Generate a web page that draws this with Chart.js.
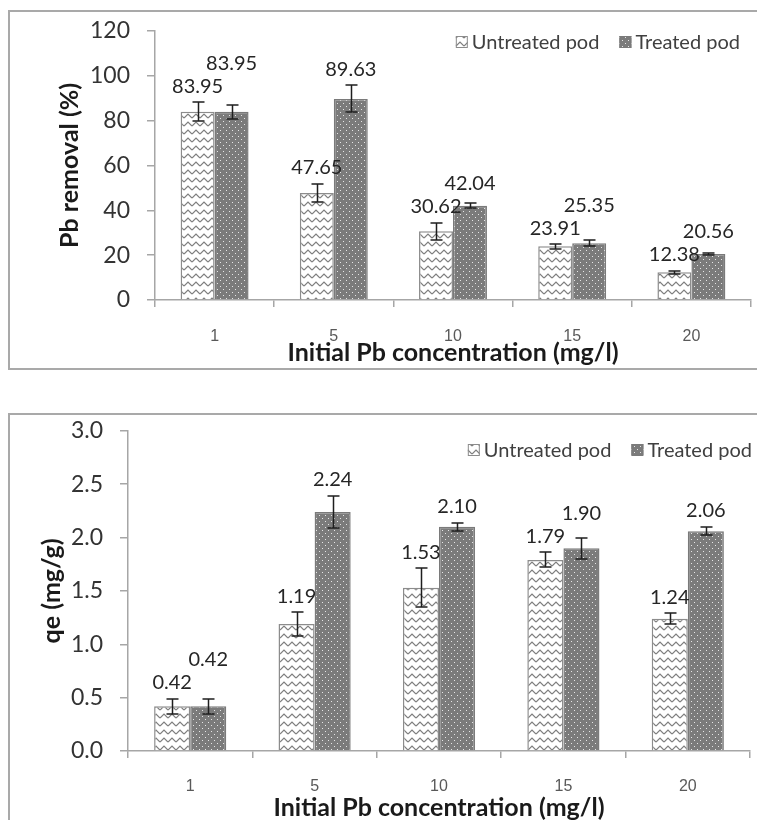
<!DOCTYPE html>
<html>
<head>
<meta charset="utf-8">
<script src="https://cdn.jsdelivr.net/npm/chart.js@4.4.1/dist/chart.umd.min.js"></script>
<style>
  html, body { margin: 0; padding: 0; background: #fff; overflow: hidden; }
  body { width: 757px; height: 820px; position: relative; }
  .frame { position: absolute; border: 2px solid #a9a9a9; box-sizing: border-box; }
  #frameTop { left: 8px; top: 10px; width: 800px; height: 360px; }
  #frameBottom { left: 8px; top: 413px; width: 800px; height: 500px; }
  canvas { position: absolute; left: 0; }
  #removalChart { top: 0; }
  #qeChart { top: 400px; }
</style>
</head>
<body>
<div class="frame" id="frameTop"></div>
<div class="frame" id="frameBottom"></div>
<canvas id="removalChart" width="757" height="390"></canvas>
<canvas id="qeChart" width="757" height="420"></canvas>
<script>
// data
const concentrations = ["1", "5", "10", "15", "20"];

const removalUntreated = [83.95, 47.65, 30.62, 23.91, 12.38];
const removalTreated = [83.95, 89.63, 42.04, 25.35, 20.56];
const removalErrUntreated = [4.2, 4.1, 3.8, 1.0, 0.6];
const removalErrTreated = [3.1, 6.0, 1.0, 1.5, 0.6];

const qeUntreated = [0.42, 1.19, 1.53, 1.79, 1.24];
const qeTreated = [0.42, 2.24, 2.10, 1.90, 2.06];
const qeErrUntreated = [0.07, 0.11, 0.18, 0.07, 0.05];
const qeErrTreated = [0.07, 0.15, 0.04, 0.10, 0.04];

const seriesNames = ["Untreated pod", "Treated pod"];

const AXIS_GRAY = "#a6a6a6";
const FONT = "Lato, 'Noto Sans', sans-serif";

function wavePattern() {
    const c = document.createElement("canvas");
    c.width = 8;
    c.height = 8;
    const g = c.getContext("2d");
    g.fillStyle = "#ffffff";
    g.fillRect(0, 0, 8, 8);
    g.strokeStyle = "#7d7d7d";
    g.lineWidth = 1.2;
    g.beginPath();
    g.moveTo(0, 6);
    g.lineTo(4, 2);
    g.lineTo(8, 6);
    g.stroke();
    return g.createPattern(c, "repeat");
}

function dotPattern() {
    const c = document.createElement("canvas");
    c.width = 6;
    c.height = 6;
    const g = c.getContext("2d");
    g.fillStyle = "#7b7b7b";
    g.fillRect(0, 0, 6, 6);
    g.fillStyle = "#e6e6e6";
    g.fillRect(1, 1, 1, 1);
    g.fillRect(4, 4, 1, 1);
    return g.createPattern(c, "repeat");
}

// error bars from each dataset's "errors" array
const errorBars = {
    id: "errorBars",
    afterDatasetsDraw(chart) {
        const { ctx } = chart;
        const y = chart.scales.y;
        ctx.save();
        ctx.strokeStyle = "#1e1e1e";
        ctx.lineWidth = 1.5;
        chart.data.datasets.forEach((ds, di) => {
            chart.getDatasetMeta(di).data.forEach((bar, i) => {
                const v = ds.data[i];
                const e = ds.errors[i];
                const top = Math.round(y.getPixelForValue(v + e));
                const bot = Math.round(y.getPixelForValue(v - e));
                const x = Math.round(bar.x) + 0.5;
                ctx.beginPath();
                ctx.moveTo(x, top);
                ctx.lineTo(x, bot);
                ctx.moveTo(x - 6, top);
                ctx.lineTo(x + 6, top);
                ctx.moveTo(x - 6, bot);
                ctx.lineTo(x + 6, bot);
                ctx.stroke();
            });
        });
        ctx.restore();
    },
};

// value labels above the error bars, treated label lifted if it collides
const valueLabels = {
    id: "valueLabels",
    afterDatasetsDraw(chart, args, opts) {
        const { ctx } = chart;
        const y = chart.scales.y;
        const [u, t] = chart.data.datasets;
        const mu = chart.getDatasetMeta(0).data;
        const mt = chart.getDatasetMeta(1).data;
        ctx.save();
        ctx.font = "20px " + FONT;
        ctx.fillStyle = "#262626";
        ctx.textAlign = "center";
        ctx.textBaseline = "middle";
        u.data.forEach((v, i) => {
            const yu = y.getPixelForValue(v + u.errors[i]) - 16;
            let yt = y.getPixelForValue(t.data[i] + t.errors[i]) - 16;
            if (Math.abs(yt - yu) < 21) yt = yu - 23;
            ctx.fillText(v.toFixed(opts.digits), mu[i].x, yu);
            ctx.fillText(t.data[i].toFixed(opts.digits), mt[i].x, yt);
        });
        ctx.restore();
    },
};

// legend drawn top right, right-aligned to opts.right
const boxLegend = {
    id: "boxLegend",
    afterDraw(chart, args, opts) {
        const { ctx } = chart;
        ctx.save();
        ctx.font = "20px " + FONT;
        ctx.textBaseline = "middle";
        const box = 12;
        const items = chart.data.datasets.map((ds) => ({
            ds,
            w: box + 4 + ctx.measureText(ds.label).width,
        }));
        const total = items.reduce((s, it) => s + it.w, 0) + 20;
        let x = opts.right - total;
        items.forEach((it) => {
            ctx.fillStyle = it.ds.backgroundColor;
            ctx.fillRect(x, opts.y - box / 2, box, box);
            ctx.strokeStyle = it.ds.borderColor;
            ctx.lineWidth = 1;
            ctx.strokeRect(x + 0.5, opts.y - box / 2 + 0.5, box - 1, box - 1);
            ctx.fillStyle = "#404040";
            ctx.fillText(it.ds.label, x + box + 4, opts.y + 1);
            x += it.w + 20;
        });
        ctx.restore();
    },
};

function buildChart(canvasId, cfg) {
    const canvas = document.getElementById(canvasId);
    const existing = Chart.getChart(canvas);
    if (existing) existing.destroy();

    return new Chart(canvas.getContext("2d"), {
        type: "bar",
        data: {
            labels: concentrations,
            datasets: [
                {
                    label: seriesNames[0],
                    data: cfg.untreated,
                    errors: cfg.errUntreated,
                    backgroundColor: wavePattern(),
                    borderColor: "#8c8c8c",
                    borderWidth: 1.5,
                    categoryPercentage: cfg.catPct,
                    barPercentage: 1.0,
                },
                {
                    label: seriesNames[1],
                    data: cfg.treated,
                    errors: cfg.errTreated,
                    backgroundColor: dotPattern(),
                    borderColor: "#7a7a7a",
                    borderWidth: 1.5,
                    categoryPercentage: cfg.catPct,
                    barPercentage: 1.0,
                },
            ],
        },
        options: {
            responsive: false,
            animation: false,
            layout: { padding: { top: cfg.top, right: cfg.right, left: 0, bottom: 0 } },
            plugins: {
                legend: { display: false },
                tooltip: { enabled: false },
                valueLabels: { digits: cfg.digits },
                boxLegend: { right: cfg.legendRight, y: cfg.legendY },
            },
            scales: {
                x: {
                    grid: {
                        drawOnChartArea: false,
                        offset: true,
                        tickLength: 7,
                        color: AXIS_GRAY,
                        lineWidth: 1.5,
                    },
                    border: { color: AXIS_GRAY, width: 1.5 },
                    ticks: {
                        padding: cfg.xTickPad,
                        color: "#595959",
                        font: { family: "'Liberation Sans Narrow', 'Liberation Sans', sans-serif", size: 16 },
                    },
                    title: {
                        display: true,
                        text: "Initial Pb concentration (mg/l)",
                        color: "#1a1a1a",
                        font: { family: FONT, size: 25, weight: "bold", lineHeight: 1 },
                        padding: { top: 0, bottom: cfg.xTitlePad },
                    },
                    afterFit(scale) {
                        scale.height = cfg.xHeight;
                    },
                },
                y: {
                    min: 0,
                    max: cfg.yMax,
                    grid: {
                        drawOnChartArea: false,
                        tickLength: 8,
                        color: AXIS_GRAY,
                        lineWidth: 1.5,
                    },
                    border: { color: AXIS_GRAY, width: 1.5 },
                    ticks: {
                        stepSize: cfg.yStep,
                        padding: 17,
                        color: "#333333",
                        font: { family: FONT, size: 23 },
                        callback: (v) => v.toFixed(cfg.tickDigits),
                    },
                    title: {
                        display: true,
                        text: cfg.yTitle,
                        color: "#1a1a1a",
                        font: { family: FONT, size: 25, weight: "bold", lineHeight: 1 },
                        padding: { top: cfg.yTitlePad, bottom: 0 },
                    },
                    afterFit(scale) {
                        scale.width = cfg.yWidth;
                    },
                },
            },
        },
        plugins: [errorBars, valueLabels, boxLegend],
    });
}

buildChart("removalChart", {
    untreated: removalUntreated,
    treated: removalTreated,
    errUntreated: removalErrUntreated,
    errTreated: removalErrTreated,
    catPct: 0.57,
    digits: 2,
    tickDigits: 0,
    yMax: 120,
    yStep: 20,
    yTitle: "Pb removal (%)",
    top: 27,
    right: 6,
    yWidth: 155,
    xHeight: 90,
    xTickPad: 20,
    xTitlePad: 25,
    yTitlePad: 57,
    legendRight: 740,
    legendY: 42,
});

buildChart("qeChart", {
    untreated: qeUntreated,
    treated: qeTreated,
    errUntreated: qeErrUntreated,
    errTreated: qeErrTreated,
    catPct: 0.58,
    digits: 2,
    tickDigits: 1,
    yMax: 3.0,
    yStep: 0.5,
    yTitle: "qe (mg/g)",
    top: 30,
    right: 7,
    yWidth: 128,
    xHeight: 69,
    xTickPad: 19,
    xTitlePad: 0,
    yTitlePad: 39,
    legendRight: 752,
    legendY: 50,
});
</script>
</body>
</html>
